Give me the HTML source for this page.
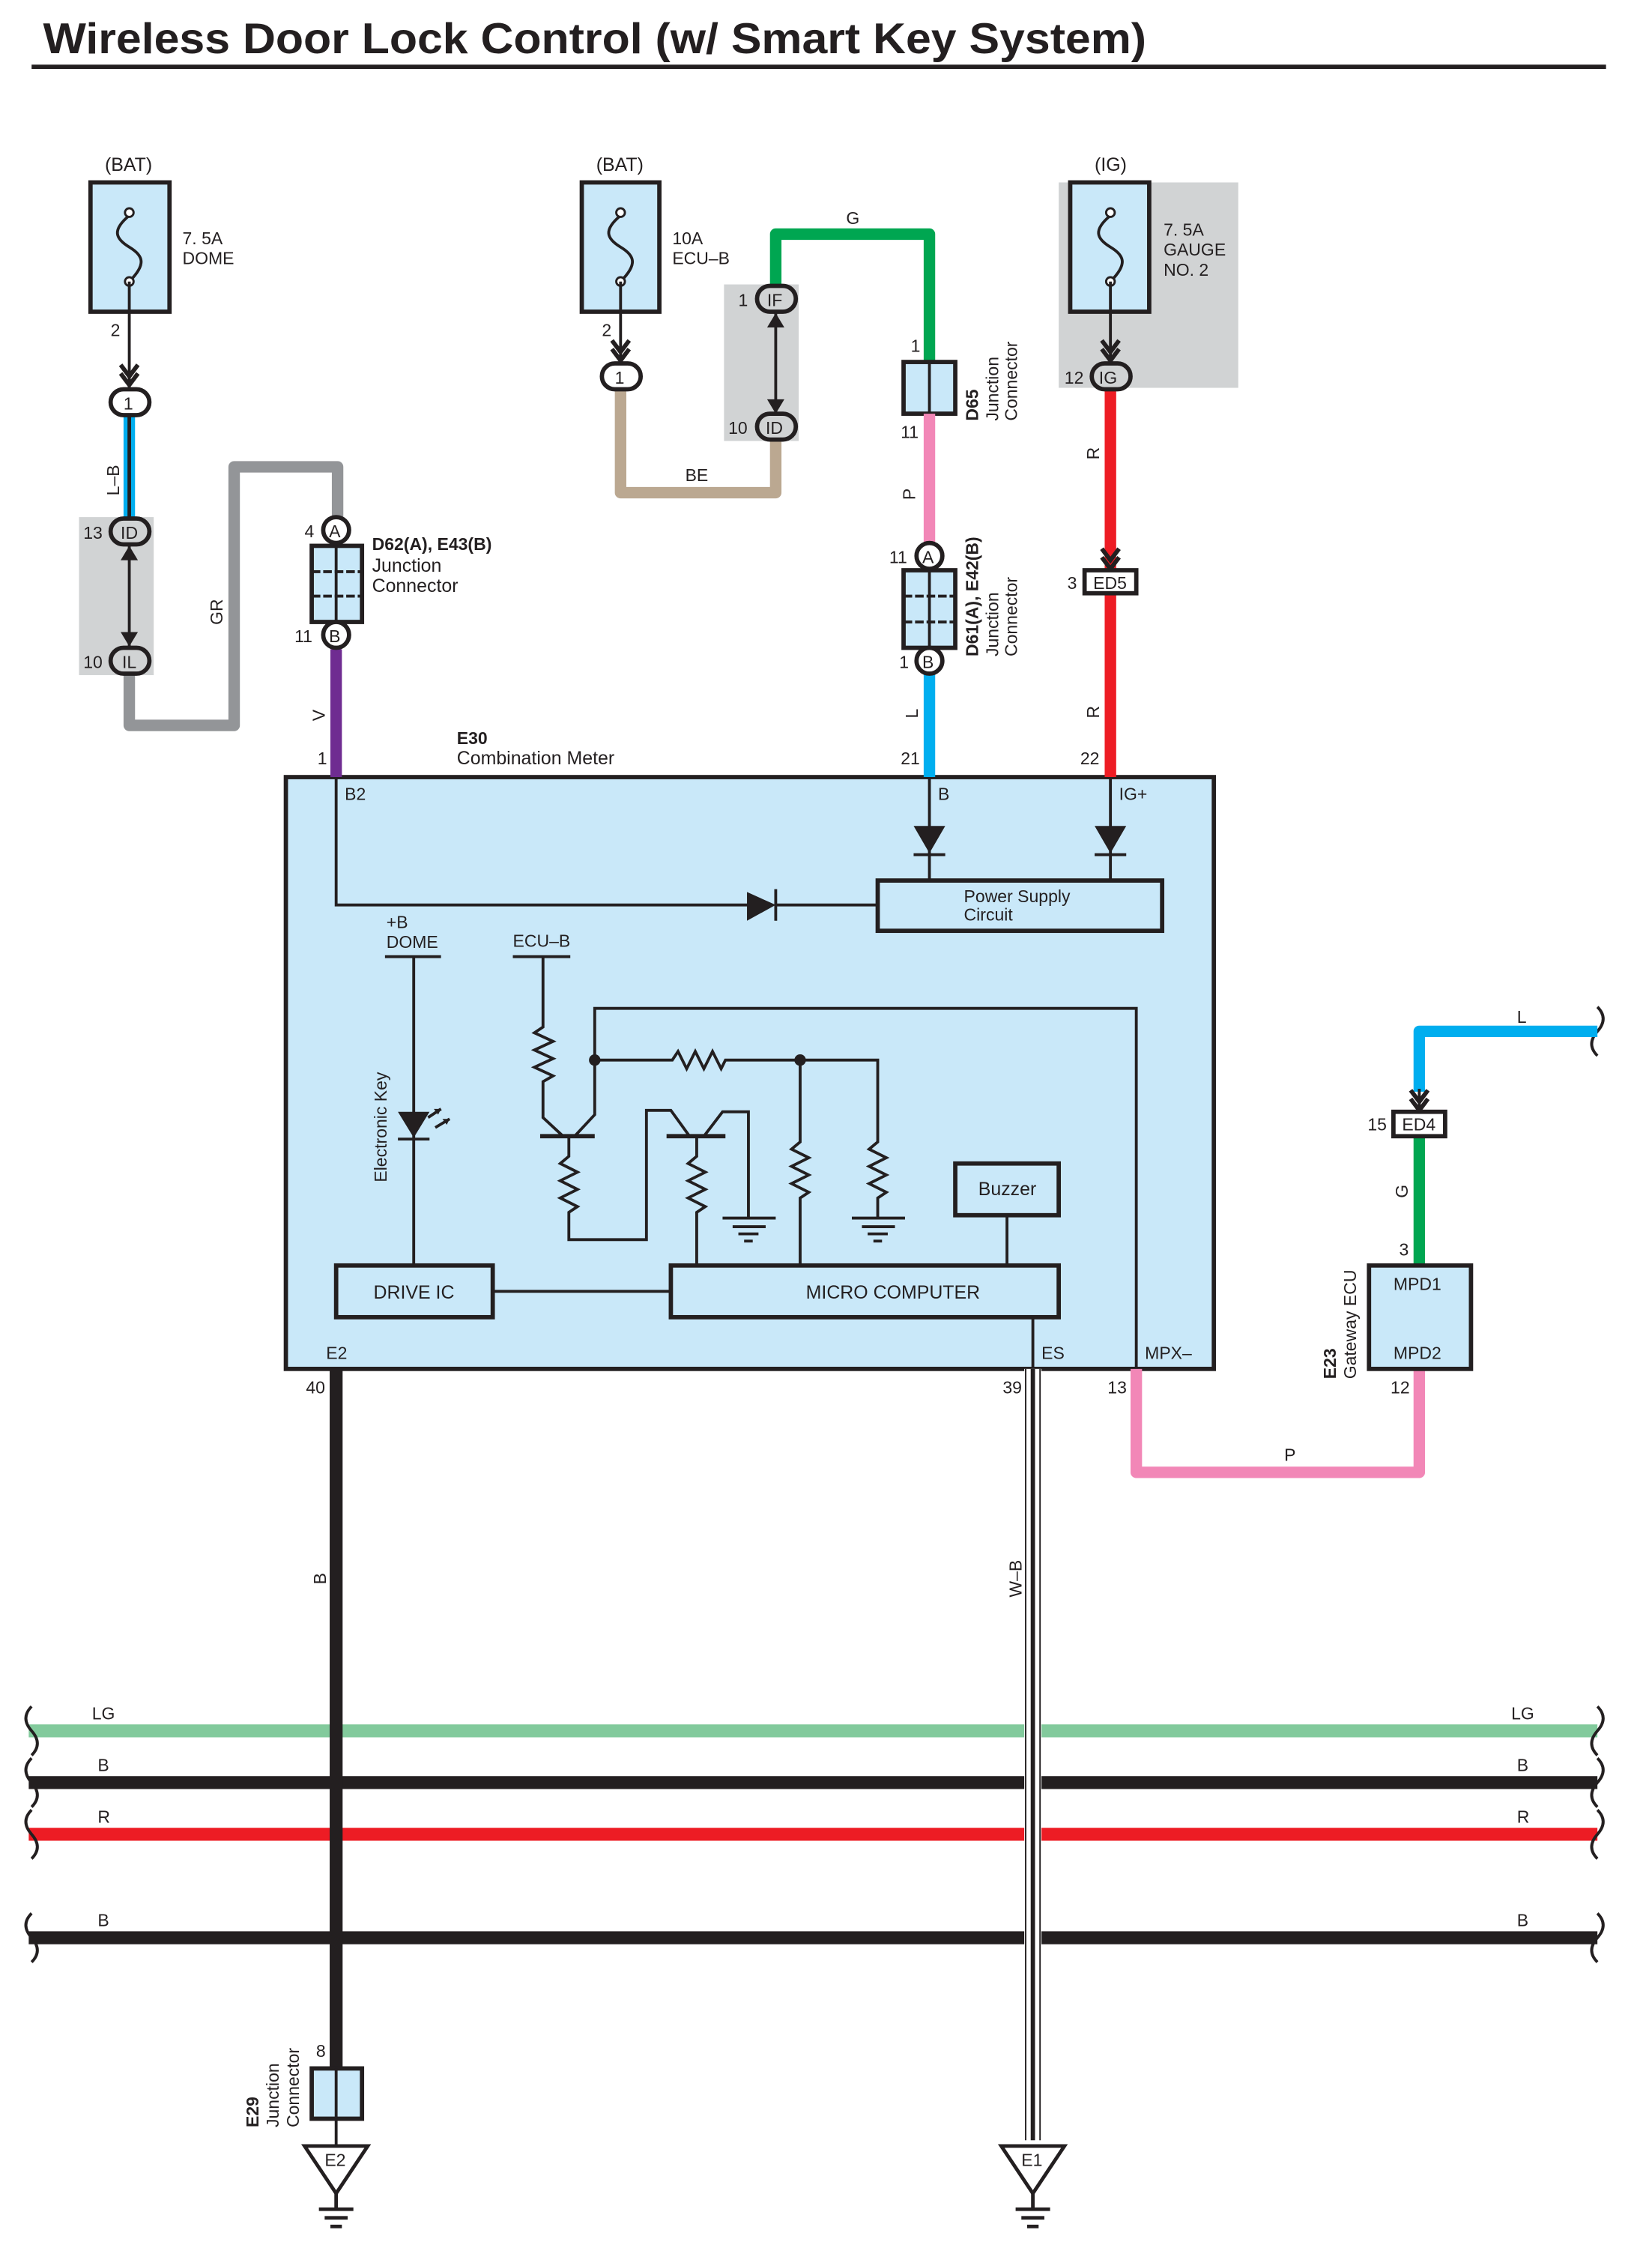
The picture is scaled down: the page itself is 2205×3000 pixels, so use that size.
<!DOCTYPE html>
<html><head><meta charset="utf-8"><style>
html,body{margin:0;padding:0;background:#fff}
svg{display:block}
text{font-family:"Liberation Sans",Arial,sans-serif;fill:#231f20}
</style></head><body>
<svg width="2205" height="3000" viewBox="0 0 1150 1565" preserveAspectRatio="none" xmlns="http://www.w3.org/2000/svg">
<defs>
<g id="fuse"><path d="M0,-22 C-12,-12 -10,-6 0,0 C10,6 12,12 0,24" fill="none" stroke="#231f20" stroke-width="2"/><circle cx="0" cy="-24" r="3" fill="#fff" stroke="#231f20" stroke-width="1.5"/><circle cx="0" cy="24" r="3" fill="#fff" stroke="#231f20" stroke-width="1.5"/></g>
<g id="chev"><path d="M-6,-8 L0,0 L6,-8 M-6,-2 L0,6 L6,-2" fill="none" stroke="#231f20" stroke-width="3"/></g>
</defs>
<text x="30" y="37" font-size="30" font-weight="bold" textLength="768" lengthAdjust="spacingAndGlyphs">Wireless Door Lock Control (w/ Smart Key System)</text>
<rect x="22" y="45" width="1096" height="3" fill="#231f20"/>

<rect x="55" y="360" width="52" height="110" fill="#d1d3d4"/>
<rect x="504" y="198" width="52" height="109" fill="#d1d3d4"/>
<rect x="737" y="127" width="125" height="143" fill="#d1d3d4"/>

<rect x="199" y="541" width="646" height="412" fill="#c9e8f9" stroke="#231f20" stroke-width="3"/>

<text x="73" y="119" font-size="13">(BAT)</text>
<rect x="63" y="127" width="55" height="90" fill="#c9e8f9" stroke="#231f20" stroke-width="3"/>
<use href="#fuse" x="90" y="172"/>
<text x="127" y="170" font-size="12">7. 5A</text><text x="127" y="184" font-size="12">DOME</text>
<line x1="90" y1="196" x2="90" y2="270" stroke="#231f20" stroke-width="2"/>
<use href="#chev" x="90" y="262"/>
<text x="77" y="234" font-size="12">2</text>
<line x1="90" y1="290" x2="90" y2="362" stroke="#00aeef" stroke-width="8"/>
<line x1="90" y1="290" x2="90" y2="362" stroke="#231f20" stroke-width="2.5"/>
<text x="0" y="0" font-size="12" transform="translate(83,345) rotate(-90)">L–B</text>
<rect x="77" y="271" width="27" height="18" rx="9" fill="#fff" stroke="#231f20" stroke-width="3"/>
<text x="86" y="285" font-size="12">1</text>
<path d="M90,470 V505 H163 V325 H235 V360" fill="none" stroke="#939598" stroke-width="8" stroke-linejoin="round"/>
<text x="0" y="0" font-size="12" transform="translate(155,435) rotate(-90)">GR</text>
<line x1="90" y1="380" x2="90" y2="450" stroke="#231f20" stroke-width="2"/>
<path d="M84,390 L90,380 L96,390 Z M84,440 L90,450 L96,440 Z" fill="#231f20"/>
<rect x="77" y="361" width="27" height="18" rx="9" fill="#d1d3d4" stroke="#231f20" stroke-width="3"/>
<text x="84" y="375" font-size="12">ID</text><text x="58" y="375" font-size="12">13</text>
<rect x="77" y="451" width="27" height="18" rx="9" fill="#d1d3d4" stroke="#231f20" stroke-width="3"/>
<text x="85" y="465" font-size="12">IL</text><text x="58" y="465" font-size="12">10</text>

<rect x="217" y="380" width="35" height="53" fill="#c9e8f9" stroke="#231f20" stroke-width="3"/>
<line x1="234" y1="380" x2="234" y2="433" stroke="#231f20" stroke-width="2"/>
<line x1="217" y1="398" x2="252" y2="398" stroke="#231f20" stroke-width="2" stroke-dasharray="6,2"/>
<line x1="217" y1="415" x2="252" y2="415" stroke="#231f20" stroke-width="2" stroke-dasharray="6,2"/>
<circle cx="234" cy="369" r="9" fill="#fff" stroke="#231f20" stroke-width="3"/><text x="229" y="374" font-size="12">A</text>
<line x1="234" y1="452" x2="234" y2="541" stroke="#6f2c91" stroke-width="8"/>
<circle cx="234" cy="442" r="9" fill="#fff" stroke="#231f20" stroke-width="3"/><text x="229" y="447" font-size="12">B</text>
<text x="212" y="374" font-size="12">4</text><text x="205" y="447" font-size="12">11</text>
<text x="259" y="383" font-size="12" font-weight="bold">D62(A), E43(B)</text>
<text x="259" y="398" font-size="13">Junction</text><text x="259" y="412" font-size="13">Connector</text>
<text x="0" y="0" font-size="12" transform="translate(226,502) rotate(-90)">V</text>
<text x="221" y="532" font-size="12">1</text>
<text x="318" y="518" font-size="12" font-weight="bold">E30</text>
<text x="318" y="532" font-size="13">Combination Meter</text>

<text x="415" y="119" font-size="13">(BAT)</text>
<rect x="405" y="127" width="54" height="90" fill="#c9e8f9" stroke="#231f20" stroke-width="3"/>
<use href="#fuse" x="432" y="172"/>
<text x="468" y="170" font-size="12">10A</text><text x="468" y="184" font-size="12">ECU–B</text>
<line x1="432" y1="196" x2="432" y2="252" stroke="#231f20" stroke-width="2"/>
<use href="#chev" x="432" y="245"/>
<text x="419" y="234" font-size="12">2</text>
<path d="M432,270 V343 H540 V305" fill="none" stroke="#bba891" stroke-width="8" stroke-linejoin="round"/>
<rect x="419" y="253" width="27" height="18" rx="9" fill="#fff" stroke="#231f20" stroke-width="3"/>
<text x="428" y="267" font-size="12">1</text>
<text x="477" y="335" font-size="12">BE</text>
<path d="M540,198 V163 H647 V252" fill="none" stroke="#00a651" stroke-width="8" stroke-linejoin="round"/>
<text x="589" y="156" font-size="12">G</text>
<line x1="540" y1="218" x2="540" y2="288" stroke="#231f20" stroke-width="2"/>
<path d="M534,228 L540,218 L546,228 Z M534,278 L540,288 L546,278 Z" fill="#231f20"/>
<rect x="527" y="199" width="27" height="18" rx="9" fill="#d1d3d4" stroke="#231f20" stroke-width="3"/>
<text x="534" y="213" font-size="12">IF</text><text x="514" y="213" font-size="12">1</text>
<rect x="527" y="288" width="27" height="18" rx="9" fill="#d1d3d4" stroke="#231f20" stroke-width="3"/>
<text x="533" y="302" font-size="12">ID</text><text x="507" y="302" font-size="12">10</text>

<rect x="629" y="252" width="36" height="36" fill="#c9e8f9" stroke="#231f20" stroke-width="3"/>
<line x1="647" y1="252" x2="647" y2="288" stroke="#231f20" stroke-width="2"/>
<text x="634" y="245" font-size="12">1</text><text x="627" y="305" font-size="12">11</text>
<text font-size="12" font-weight="bold" transform="translate(681,293) rotate(-90)">D65</text>
<text font-size="12" transform="translate(695,293) rotate(-90)">Junction</text>
<text font-size="12" transform="translate(708,293) rotate(-90)">Connector</text>
<line x1="647" y1="288" x2="647" y2="378" stroke="#f287b7" stroke-width="8"/>
<text font-size="12" transform="translate(637,348) rotate(-90)">P</text>
<rect x="629" y="397" width="36" height="54" fill="#c9e8f9" stroke="#231f20" stroke-width="3"/>
<line x1="647" y1="397" x2="647" y2="451" stroke="#231f20" stroke-width="2"/>
<line x1="629" y1="415" x2="665" y2="415" stroke="#231f20" stroke-width="2" stroke-dasharray="6,2"/>
<line x1="629" y1="433" x2="665" y2="433" stroke="#231f20" stroke-width="2" stroke-dasharray="6,2"/>
<line x1="647" y1="469" x2="647" y2="541" stroke="#00aeef" stroke-width="8"/>
<circle cx="647" cy="387" r="9" fill="#fff" stroke="#231f20" stroke-width="3"/><text x="642" y="392" font-size="12">A</text>
<circle cx="647" cy="460" r="9" fill="#fff" stroke="#231f20" stroke-width="3"/><text x="642" y="465" font-size="12">B</text>
<text x="619" y="392" font-size="12">11</text><text x="626" y="465" font-size="12">1</text>
<text font-size="12" font-weight="bold" transform="translate(681,457) rotate(-90)">D61(A), E42(B)</text>
<text font-size="12" transform="translate(695,457) rotate(-90)">Junction</text>
<text font-size="12" transform="translate(708,457) rotate(-90)">Connector</text>
<text font-size="12" transform="translate(639,500) rotate(-90)">L</text>
<text x="627" y="532" font-size="12">21</text>

<text x="762" y="119" font-size="13">(IG)</text>
<rect x="745" y="127" width="55" height="90" fill="#c9e8f9" stroke="#231f20" stroke-width="3"/>
<use href="#fuse" x="773" y="172"/>
<text x="810" y="164" font-size="12">7. 5A</text><text x="810" y="178" font-size="12">GAUGE</text><text x="810" y="192" font-size="12">NO. 2</text>
<line x1="773" y1="196" x2="773" y2="252" stroke="#231f20" stroke-width="2"/>
<use href="#chev" x="773" y="245"/>
<line x1="773" y1="270" x2="773" y2="541" stroke="#ed1c24" stroke-width="8"/>
<rect x="760" y="253" width="27" height="18" rx="9" fill="#d1d3d4" stroke="#231f20" stroke-width="3"/>
<text x="765" y="267" font-size="12">IG</text><text x="741" y="267" font-size="12">12</text>
<use href="#chev" x="773" y="390"/>
<rect x="755" y="397" width="36" height="16" fill="#fff" stroke="#231f20" stroke-width="3"/>
<text x="761" y="410" font-size="12">ED5</text><text x="743" y="410" font-size="12">3</text>
<text font-size="12" transform="translate(765,320) rotate(-90)">R</text>
<text font-size="12" transform="translate(765,500) rotate(-90)">R</text>
<text x="752" y="532" font-size="12">22</text>

<g stroke="#231f20" stroke-width="2" fill="none">
<path d="M234,541 V630 H522 M540,630 H611"/>
<path d="M647,541 V613 M773,541 V613"/>
<line x1="540" y1="619" x2="540" y2="641"/>
<path d="M288,666 V881 M268,666 H307"/>
<path d="M357,666 H397 M378,666 V715 L372,719 L385,725 L372,731 L385,737 L372,743 L385,749 L378,753 V778 L392,791"/>
<path d="M376,791 H414" stroke-width="3"/>
<path d="M400,791 L414,776 V702 H791 V953"/>
<path d="M414,738 H468 L472,732 L478,744 L484,732 L490,744 L496,732 L502,744 L505,738 H611 V795 L605,800 L617,806 L605,812 L617,818 L605,824 L617,830 L611,834 V848"/>
<path d="M557,738 V795 L551,800 L563,806 L551,812 L563,818 L551,824 L563,830 L557,834 V881"/>
<path d="M396,791 V805 L390,810 L402,816 L390,822 L402,828 L390,834 L402,840 L396,844 V863 H450 V773 H467 L480,791"/>
<path d="M464,791 H505" stroke-width="3"/>
<path d="M485,791 V805 L479,810 L491,816 L479,822 L491,828 L479,834 L491,840 L485,844 V881"/>
<path d="M490,791 L503,774 H521 V848"/>
<path d="M701,846 V881 M343,899 H467 M719,917 V953"/>
<path d="M503,848 H540 M510,854 H533 M514,859 H528 M518,864 H524"/>
<path d="M593,848 H630 M600,854 H623 M604,859 H618 M608,864 H614"/>
<path d="M298,778 L307,772 M303,785 L313,779"/>
</g>
<path d="M520,621 L540,630 L520,641 Z" fill="#231f20"/>
<path d="M636,575 L658,575 L647,594 Z M762,575 L784,575 L773,594 Z" fill="#231f20"/>
<line x1="636" y1="595" x2="658" y2="595" stroke="#231f20" stroke-width="2"/>
<line x1="762" y1="595" x2="784" y2="595" stroke="#231f20" stroke-width="2"/>
<path d="M277,774 L299,774 L288,792 Z" fill="#231f20"/>
<line x1="277" y1="793" x2="299" y2="793" stroke="#231f20" stroke-width="2"/>
<path d="M307,772 l-5,0 l3,4z M313,779 l-5,0 l3,4z" fill="#231f20"/>
<circle cx="414" cy="738" r="4" fill="#231f20"/><circle cx="557" cy="738" r="4" fill="#231f20"/>
<rect x="611" y="613" width="198" height="35" fill="none" stroke="#231f20" stroke-width="3"/>
<text x="671" y="628" font-size="12">Power Supply</text><text x="671" y="641" font-size="12">Circuit</text>
<text x="240" y="557" font-size="12">B2</text><text x="653" y="557" font-size="12">B</text><text x="779" y="557" font-size="12">IG+</text>
<text x="269" y="646" font-size="12">+B</text><text x="269" y="660" font-size="12">DOME</text>
<text x="357" y="659" font-size="12">ECU–B</text>
<text font-size="12" transform="translate(269,823) rotate(-90)">Electronic Key</text>
<rect x="665" y="810" width="72" height="36" fill="#c9e8f9" stroke="#231f20" stroke-width="3"/>
<text x="681" y="832" font-size="13">Buzzer</text>
<rect x="234" y="881" width="109" height="36" fill="#c9e8f9" stroke="#231f20" stroke-width="3"/>
<text x="260" y="904" font-size="13">DRIVE IC</text>
<rect x="467" y="881" width="270" height="36" fill="#c9e8f9" stroke="#231f20" stroke-width="3"/>
<text x="561" y="904" font-size="13">MICRO COMPUTER</text>
<text x="227" y="946" font-size="12">E2</text><text x="725" y="946" font-size="12">ES</text><text x="797" y="946" font-size="12">MPX–</text>

<line x1="20" y1="1205" x2="1112" y2="1205" stroke="#82ca9c" stroke-width="9"/>
<line x1="20" y1="1241" x2="1112" y2="1241" stroke="#231f20" stroke-width="9"/>
<line x1="20" y1="1277" x2="1112" y2="1277" stroke="#ed1c24" stroke-width="9"/>
<line x1="20" y1="1349" x2="1112" y2="1349" stroke="#231f20" stroke-width="9"/>
<g fill="none" stroke="#231f20" stroke-width="2">
<path d="M22,1188 q-8,8 0,17 q8,9 0,17 M22,1224 q-8,8 0,17 q8,9 0,17 M22,1260 q-8,8 0,17 q8,9 0,17 M22,1332 q-8,8 0,17 q8,9 0,17"/>
<path d="M1112,1188 q8,8 0,17 q-8,9 0,17 M1112,1224 q8,8 0,17 q-8,9 0,17 M1112,1260 q8,8 0,17 q-8,9 0,17 M1112,1332 q8,8 0,17 q-8,9 0,17 M1112,701 q8,8 0,17 q-8,9 0,17"/>
</g>
<text x="64" y="1197" font-size="12">LG</text><text x="1052" y="1197" font-size="12">LG</text>
<text x="68" y="1233" font-size="12">B</text><text x="1056" y="1233" font-size="12">B</text>
<text x="68" y="1269" font-size="12">R</text><text x="1056" y="1269" font-size="12">R</text>
<text x="68" y="1341" font-size="12">B</text><text x="1056" y="1341" font-size="12">B</text>

<line x1="234" y1="953" x2="234" y2="1440" stroke="#231f20" stroke-width="9"/>
<text x="213" y="970" font-size="12">40</text>
<text font-size="12" transform="translate(227,1103) rotate(-90)">B</text>
<rect x="713" y="953" width="12" height="537" fill="#fff"/>
<line x1="714" y1="953" x2="714" y2="1490" stroke="#231f20" stroke-width="1"/>
<line x1="724" y1="953" x2="724" y2="1490" stroke="#231f20" stroke-width="1"/>
<line x1="719" y1="953" x2="719" y2="1490" stroke="#231f20" stroke-width="3"/>
<text x="698" y="970" font-size="12">39</text>
<text font-size="12" transform="translate(711,1112) rotate(-90)">W–B</text>
<path d="M791,953 V1025 H988 V953" fill="none" stroke="#f287b7" stroke-width="8" stroke-linejoin="round"/>
<text x="771" y="970" font-size="12">13</text><text x="894" y="1017" font-size="12">P</text><text x="968" y="970" font-size="12">12</text>
<line x1="988" y1="791" x2="988" y2="881" stroke="#00a651" stroke-width="8"/>
<path d="M988,760 V718 H1112" fill="none" stroke="#00aeef" stroke-width="8" stroke-linejoin="round"/>
<line x1="988" y1="758" x2="988" y2="774" stroke="#231f20" stroke-width="2"/>
<use href="#chev" x="988" y="767"/>
<rect x="970" y="774" width="36" height="17" fill="#fff" stroke="#231f20" stroke-width="3"/>
<text x="976" y="787" font-size="12">ED4</text><text x="952" y="787" font-size="12">15</text>
<text x="1056" y="712" font-size="12">L</text>
<text font-size="12" transform="translate(980,834) rotate(-90)">G</text>
<text x="974" y="874" font-size="12">3</text>
<rect x="953" y="881" width="71" height="72" fill="#c9e8f9" stroke="#231f20" stroke-width="3"/>
<text x="970" y="898" font-size="12">MPD1</text><text x="970" y="946" font-size="12">MPD2</text>
<text font-size="12" font-weight="bold" transform="translate(930,960) rotate(-90)">E23</text>
<text font-size="12" transform="translate(944,960) rotate(-90)">Gateway ECU</text>

<rect x="217" y="1440" width="35" height="35" fill="#c9e8f9" stroke="#231f20" stroke-width="3"/>
<line x1="234" y1="1440" x2="234" y2="1475" stroke="#231f20" stroke-width="2"/>
<text x="220" y="1432" font-size="12">8</text>
<text font-size="12" font-weight="bold" transform="translate(180,1481) rotate(-90)">E29</text>
<text font-size="12" transform="translate(194,1481) rotate(-90)">Junction</text>
<text font-size="12" transform="translate(208,1481) rotate(-90)">Connector</text>
<line x1="234" y1="1475" x2="234" y2="1494" stroke="#231f20" stroke-width="2"/>
<g fill="none" stroke="#231f20" stroke-width="2.5">
<path d="M212,1494 H256 L234,1527 Z"/>
<path d="M234,1527 V1538 M222,1538 H246 M226,1544 H242 M230,1550 H238"/>
<path d="M697,1494 H741 L719,1527 Z"/>
<path d="M719,1527 V1538 M707,1538 H731 M711,1544 H727 M715,1550 H723"/>
</g>
<text x="226" y="1508" font-size="12">E2</text>
<text x="711" y="1508" font-size="12">E1</text>
</svg>
</body></html>
